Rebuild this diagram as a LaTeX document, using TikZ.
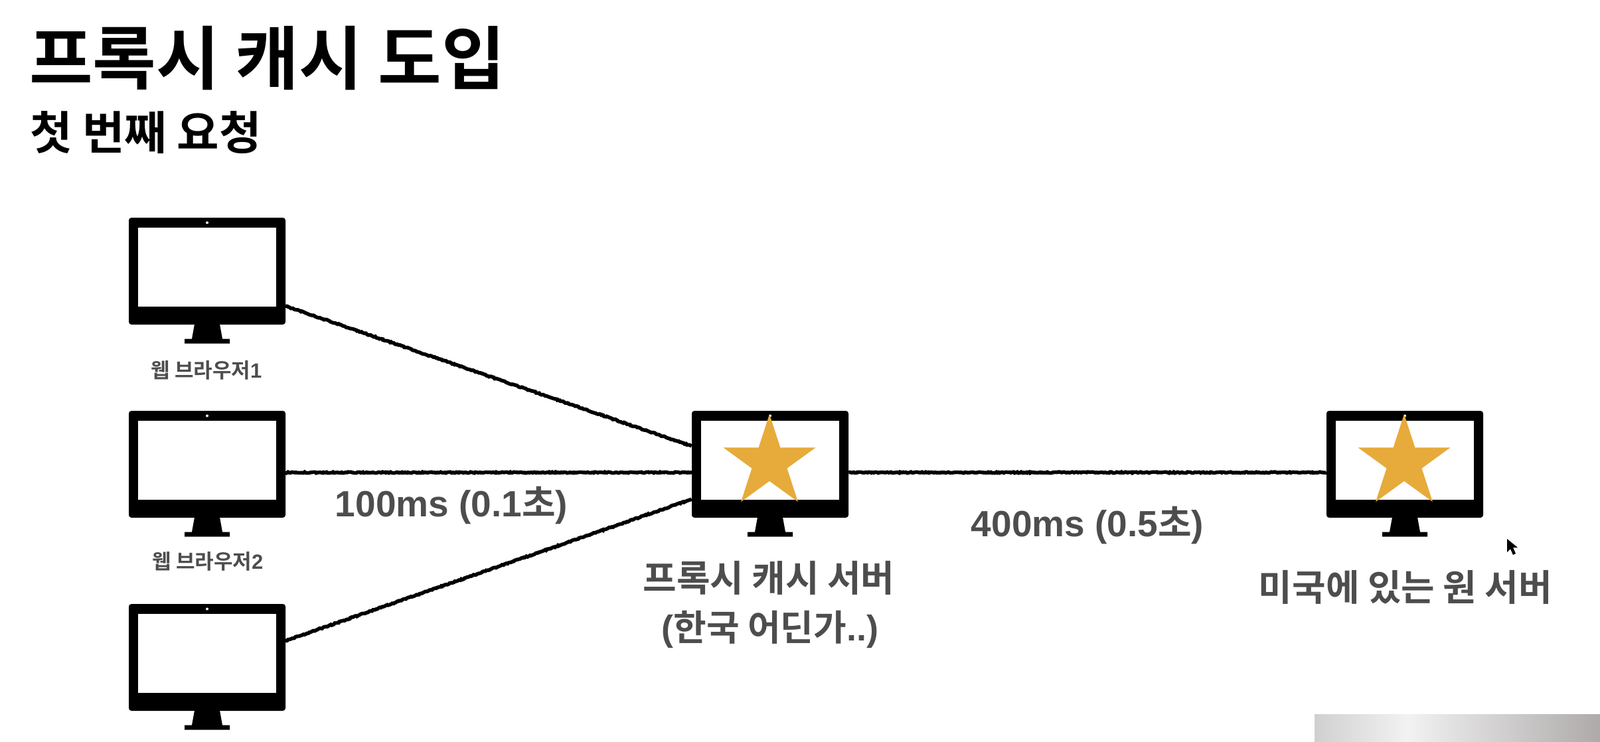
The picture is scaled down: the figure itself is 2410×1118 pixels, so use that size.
\documentclass[tikz,border=0pt]{standalone}
\usepackage{fontspec}
\setmainfont{Noto Sans CJK KR}[BoldFont={Noto Sans CJK KR Bold}]
\newfontfamily\latinfont{Liberation Sans}[BoldFont={Liberation Sans Bold}]
\usetikzlibrary{shapes.geometric,decorations.pathmorphing}
\definecolor{labelgray}{HTML}{4D4D4D}
\definecolor{stargold}{HTML}{E6AB3A}
\definecolor{stripleft}{HTML}{D0D0D0}
\definecolor{stripmid}{HTML}{F2F2F2}
\definecolor{stripright}{HTML}{AEAAAA}
\tikzset{
  monitor/.style={fill=black,rounded corners=4pt,minimum width=236pt,minimum height=161pt,inner sep=0pt},
  monscreen/.style={fill=white,minimum width=208pt,minimum height=119pt,inner sep=0pt},
  camera/.style={circle,fill=white,minimum size=4pt,inner sep=0pt},
  goldstar/.style={star,star points=5,star point ratio=2.618,fill=stargold,minimum size=146pt,inner sep=0pt},
  roughline/.style={line width=5.5pt,black,decorate,decoration={random steps,segment length=2pt,amplitude=0.8pt}},
  graylabel/.style={text=labelgray,font=\bfseries\fontsize{55}{60}\selectfont,inner sep=0pt,align=center},
  smalllabel/.style={text=labelgray,font=\bfseries\fontsize{31}{36}\selectfont,inner sep=0pt}
}
\begin{document}
\begin{tikzpicture}[x=1pt,y=-1pt]
\useasboundingbox (0,0) rectangle (2410,1118);
\node[anchor=west,inner sep=0pt,font=\bfseries\fontsize{104}{115}\selectfont] (title) at (44,88) {프록시 캐시 도입};
\node[anchor=west,inner sep=0pt,font=\bfseries\fontsize{69}{80}\selectfont] (subtitle) at (45,200) {첫 번째 요청};
\foreach \name/\x/\y in {browserA/312/408.5,browserB/312/699.5,browserC/312/990.5,proxy/1160/699.5,origin/2116/699.5} {
  \node[monitor] (\name) at (\x,\y) {};
  \node[monscreen] (\name screen) at (\x,\y-6) {};
  \node[camera] (\name cam) at (\x,\y-73) {};
  \fill[black,shift={(\x,\y)}] (-19,80) -- (19,80) -- (23,102) -- (34,102) -- (34,109) -- (-34,109) -- (-34,102) -- (-23,102) -- cycle;
}
\node[goldstar] (proxystar) at (1159,697) {};
\node[goldstar] (originstar) at (2115,697) {};
\draw[roughline] (browserA.-24.4) -- (proxy.167.6);
\draw[roughline] (browserB.-6.5) -- (proxy.186.5);
\draw[roughline] (browserC.12.6) -- (proxy.204.6);
\draw[roughline] (proxy.-6.5) -- (origin.186.5);
\node[smalllabel] (browserAlabel) at (311,558) {웹 브라우저{\latinfont 1}};
\node[smalllabel] (browserBlabel) at (313,846) {웹 브라우저{\latinfont 2}};
\node[graylabel] (fastlabel) at (680,762) {{\latinfont 100ms (0.1}초{\latinfont )}};
\node[graylabel] (slowlabel) at (1638,792) {{\latinfont 400ms (0.5}초{\latinfont )}};
\node[graylabel] (proxylabel) at (1158,871) {프록시 캐시 서버};
\node[graylabel,font=\bfseries\fontsize{54}{60}\selectfont] (proxysub) at (1160,948) {{\latinfont (}한국 어딘가{\latinfont ..)}};
\node[graylabel] (originlabel) at (2117,885) {미국에 있는 원 서버};
\fill[black] (2270,812) -- (2270,832) -- (2275,827) -- (2279,836) -- (2283,834) -- (2279,825) -- (2286,825) -- cycle;
\shade[left color=stripleft,right color=stripmid] (1980,1076) rectangle (2120,1118);
\shade[left color=stripmid,right color=stripright] (2120,1076) rectangle (2410,1118);
\end{tikzpicture}
\end{document}
